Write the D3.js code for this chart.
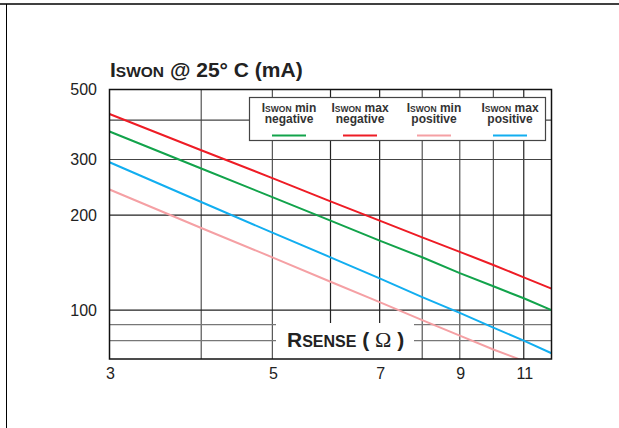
<!DOCTYPE html>
<html>
<head>
<meta charset="utf-8">
<script src="https://cdn.jsdelivr.net/npm/d3@7"></script>
<style>
  body { margin: 0; background: #fff; }
  svg { display: block; font-family: "Liberation Sans", Arial, sans-serif; }
</style>
</head>
<body>
<svg></svg>
<script>
  // R sense values (ohm)
  var rSense = [3, 4, 5, 6, 7, 8, 9, 10, 11, 12];
  var minNegative = [368, 281, 228, 192, 166, 147, 131, 119, 109, 100];
  var maxNegative = [418, 321, 262, 221, 192, 170, 153, 139, 127, 117];
  var minPositive = [241, 182, 147, 123, 106, 93, 83, 75, 69, 63];
  var maxPositive = [294, 220, 176, 147, 126, 110, 98, 88, 80, 73];

  var xTickLabels = [3, 5, 7, 9, 11];
  var xGrid = [4, 5, 6, 7, 8, 9, 10, 11];
  var yTickLabels = [500, 300, 200, 100];
  var yGrid = [400, 300, 200, 100];
  var yGridShort = [90, 80];

  var series = [
    {name: "min", sub: "negative", color: "#12a34b", values: minNegative},
    {name: "max", sub: "negative", color: "#ee1c25", values: maxNegative},
    {name: "min", sub: "positive", color: "#f5a0a4", values: minPositive},
    {name: "max", sub: "positive", color: "#12aef0", values: maxPositive}
  ];

  var W = 619, H = 428;
  var svg = d3.select("svg").attr("width", W).attr("height", H);

  // page frame
  svg.append("line").attr("x1", 0).attr("x2", W).attr("y1", 4).attr("y2", 4)
    .attr("stroke", "#000").attr("stroke-width", 1.5);
  svg.append("line").attr("x1", 6.5).attr("x2", 6.5).attr("y1", 4).attr("y2", H)
    .attr("stroke", "#000").attr("stroke-width", 1);

  var pL = 109.5, pR = 551.5, pT = 89.5, pB = 359;
  var x = d3.scaleLog().domain([3, 12]).range([pL, pR]);
  var y = d3.scaleLog().domain([70, 500]).range([pB, pT]);

  var grid = svg.append("g");

  // vertical grid; 6 and 7 stop above the axis title
  xGrid.forEach(function(v) {
    var short = (v == 6 || v == 7);
    grid.append("line")
      .attr("x1", x(v)).attr("x2", x(v))
      .attr("y1", pT).attr("y2", short ? 323 : pB)
      .attr("stroke", (v == 6 || v == 7 || v == 11) ? "#222" : "#555")
      .attr("stroke-width", 1.2);
  });

  yGrid.forEach(function(v) {
    grid.append("line")
      .attr("x1", pL).attr("x2", pR)
      .attr("y1", y(v)).attr("y2", y(v))
      .attr("stroke", (v == 300 || v == 400) ? "#444" : "#222")
      .attr("stroke-width", 1.2);
  });

  // 90 and 80 lines are broken around the axis title
  yGridShort.forEach(function(v) {
    [[pL, 276], [414, pR]].forEach(function(seg) {
      grid.append("line")
        .attr("x1", seg[0]).attr("x2", seg[1])
        .attr("y1", y(v)).attr("y2", y(v))
        .attr("stroke", "#777").attr("stroke-width", 1.3);
    });
  });

  // curves
  svg.append("clipPath").attr("id", "clip").append("rect")
    .attr("x", pL).attr("y", pT).attr("width", pR - pL).attr("height", pB - pT);

  var line = d3.line()
    .x(function(d, i) { return x(rSense[i]); })
    .y(function(d) { return y(d); });

  svg.append("g").attr("clip-path", "url(#clip)")
    .selectAll("path").data(series).enter()
    .append("path")
    .attr("d", function(s) { return line(s.values); })
    .attr("fill", "none")
    .attr("stroke", function(s) { return s.color; })
    .attr("stroke-width", 2);

  // plot border
  svg.append("rect").attr("x", pL).attr("y", pT)
    .attr("width", pR - pL).attr("height", pB - pT)
    .attr("fill", "none").attr("stroke", "#111").attr("stroke-width", 1.5);

  // y labels
  svg.append("g").selectAll("text").data(yTickLabels).enter()
    .append("text")
    .attr("x", 97).attr("y", function(d) { return y(d); })
    .attr("dy", "0.36em")
    .attr("text-anchor", "end")
    .attr("font-size", 16).attr("fill", "#222")
    .text(function(d) { return d; });

  // x labels
  svg.append("g").selectAll("text").data(xTickLabels).enter()
    .append("text")
    .attr("x", function(d) { return x(d) + 1; }).attr("y", 379)
    .attr("text-anchor", "middle")
    .attr("font-size", 16).attr("fill", "#222")
    .text(function(d) { return d; });

  // title
  var title = svg.append("text").attr("x", 110).attr("y", 77)
    .attr("font-weight", "bold").attr("font-size", 21).attr("fill", "#222");
  title.append("tspan").text("I");
  title.append("tspan").attr("font-size", 15.5).text("SWON");
  title.append("tspan").text(" @ 25° C (mA)");

  // axis title
  var xt = svg.append("text").attr("x", 287).attr("y", 347)
    .attr("font-weight", "bold").attr("font-size", 21).attr("fill", "#222");
  xt.append("tspan").text("R");
  xt.append("tspan").attr("font-size", 16).text("SENSE");
  xt.append("tspan").text(" ( ");
  xt.append("tspan").attr("font-family", "Liberation Serif, serif")
    .attr("font-weight", "normal").attr("font-size", 22).text("Ω");
  xt.append("tspan").text(" )");

  // legend
  var lg = svg.append("g");
  lg.append("rect").attr("x", 249.5).attr("y", 97.5).attr("width", 296).attr("height", 43)
    .attr("fill", "#fff").attr("stroke", "#444").attr("stroke-width", 1.2);

  var legendX = [289, 360, 434, 510];
  var items = lg.selectAll("g.item").data(series).enter()
    .append("g").attr("class", "item")
    .attr("transform", function(d, i) { return "translate(" + legendX[i] + ",0)"; });

  var t1 = items.append("text").attr("y", 112).attr("text-anchor", "middle")
    .attr("font-weight", "bold").attr("font-size", 12).attr("fill", "#333");
  t1.append("tspan").text("I");
  t1.append("tspan").attr("font-size", 8.5).text("SWON");
  t1.append("tspan").text(function(d) { return " " + d.name; });

  items.append("text").attr("y", 123).attr("text-anchor", "middle")
    .attr("font-weight", "bold").attr("font-size", 12).attr("fill", "#333")
    .text(function(d) { return d.sub; });

  items.append("line").attr("x1", -17).attr("x2", 17).attr("y1", 135.5).attr("y2", 135.5)
    .attr("stroke", function(d) { return d.color; }).attr("stroke-width", 2);
</script>
</body>
</html>
